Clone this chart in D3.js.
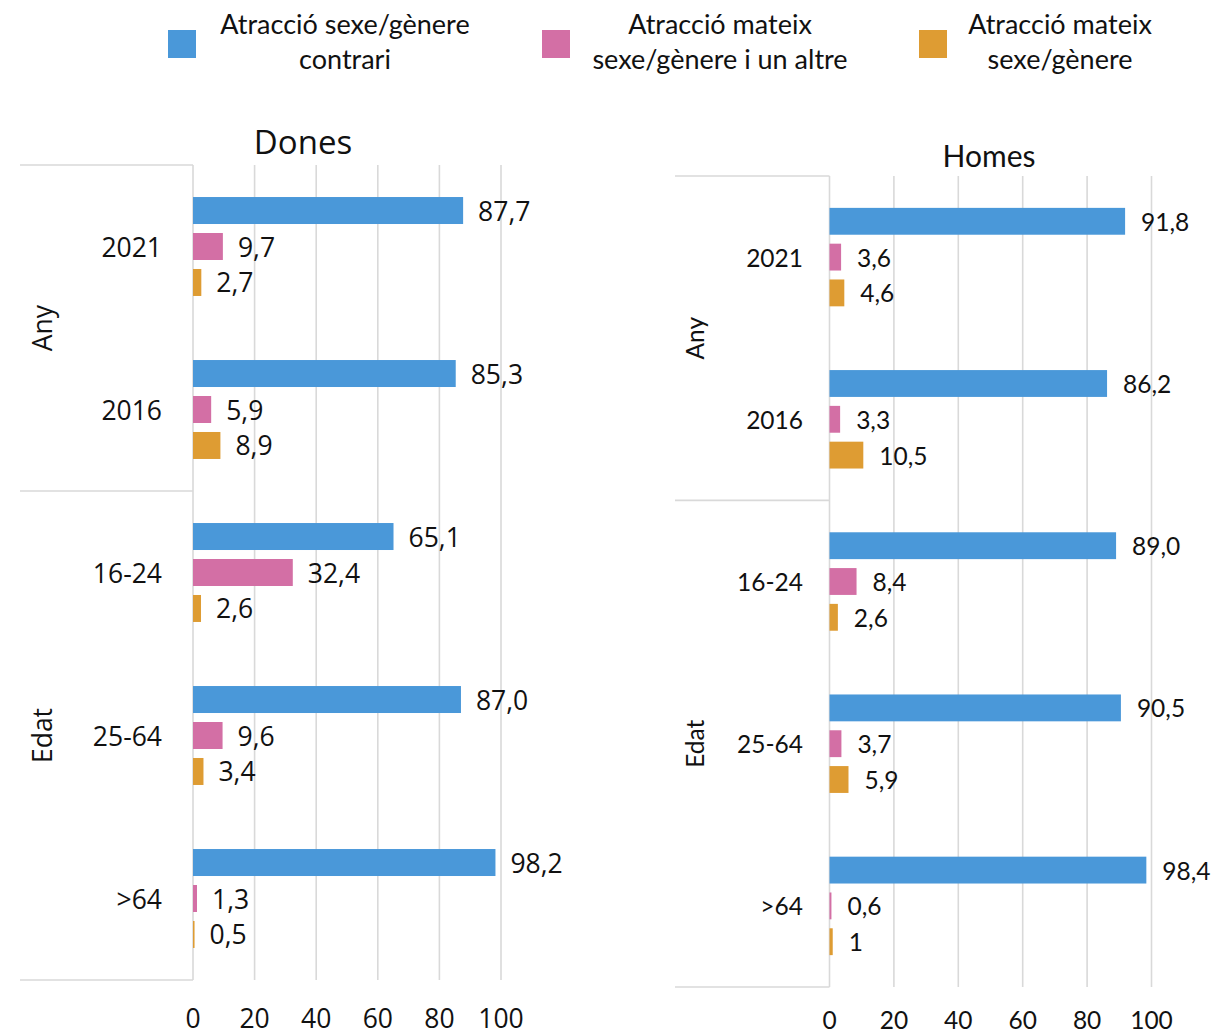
<!DOCTYPE html>
<html>
<head>
<meta charset="utf-8">
<script src="https://cdn.jsdelivr.net/npm/d3@7"></script>
<style>
  html, body { margin: 0; padding: 0; background: #fff; }
  svg { display: block; }
</style>
</head>
<body>
<svg id="chart" width="1217" height="1034"></svg>
<script>
// ---- data ----
const categories = ["2021", "2016", "16-24", "25-64", ">64"];
const groups = [
  { name: "Any", cats: ["2021", "2016"] },
  { name: "Edat", cats: ["16-24", "25-64", ">64"] }
];
const seriesNames = [
  "Atracció sexe/gènere contrari",
  "Atracció mateix sexe/gènere i un altre",
  "Atracció mateix sexe/gènere"
];
const seriesColors = ["#4a98d9", "#d36fa5", "#de9c33"];

const donesContrari = [87.7, 85.3, 65.1, 87.0, 98.2];
const donesAltre    = [9.7, 5.9, 32.4, 9.6, 1.3];
const donesMateix   = [2.7, 8.9, 2.6, 3.4, 0.5];

const homesContrari = [91.8, 86.2, 89.0, 90.5, 98.4];
const homesAltre    = [3.6, 3.3, 8.4, 3.7, 0.6];
const homesMateix   = [4.6, 10.5, 2.6, 5.9, 1];

const xTicks = [0, 20, 40, 60, 80, 100];

// label format: one decimal with comma; whole-number "1" shown as in source
const fmt = v => (v === 1 ? "1" : v.toFixed(1).replace(".", ","));

const svg = d3.select("#chart");

// ---- legend ----
const legendItems = [
  { color: seriesColors[0], sq: 168, cx: 345, lines: ["Atracció sexe/gènere", "contrari"] },
  { color: seriesColors[1], sq: 542, cx: 720, lines: ["Atracció mateix", "sexe/gènere i un altre"] },
  { color: seriesColors[2], sq: 919, cx: 1060, lines: ["Atracció mateix", "sexe/gènere"] }
];
const lg = svg.append("g");
legendItems.forEach(it => {
  lg.append("rect").attr("x", it.sq).attr("y", 30).attr("width", 28).attr("height", 28).attr("fill", it.color);
  it.lines.forEach((t, i) => {
    lg.append("text").attr("x", it.cx).attr("y", 23 + i * 35)
      .attr("text-anchor", "middle").attr("dominant-baseline", "central")
      .attr("font-family", "Lato, 'Open Sans', sans-serif")
      .attr("font-size", 27).attr("fill", "#111").text(t);
  });
});

function drawPanel(cfg) {
  const g = svg.append("g");
  const series = [cfg.s0, cfg.s1, cfg.s2];
  const x = d3.scaleLinear().domain([0, 100]).range([cfg.x0, cfg.x1]);
  const y = d3.scaleBand().domain(categories).range([cfg.top, cfg.bottom])
    .paddingInner(0.393).paddingOuter(0.1965);
  const ys = d3.scaleBand().domain([0, 1, 2]).range([0, y.bandwidth()]).paddingInner(0.25);
  const step = y.step();

  // gridlines
  g.selectAll(".grid").data(xTicks.slice(1)).join("line")
    .attr("x1", d => x(d)).attr("x2", d => x(d))
    .attr("y1", cfg.top).attr("y2", cfg.bottom)
    .attr("stroke", "#d9d9d9").attr("stroke-width", 1.6);

  // category axis line
  g.append("line").attr("x1", x(0)).attr("x2", x(0)).attr("y1", cfg.top).attr("y2", cfg.bottom)
    .attr("stroke", "#d9d9d9").attr("stroke-width", 1.6);

  // group separators
  let idx = 0;
  const seps = [cfg.top];
  groups.forEach(gr => {
    const start = idx;
    idx += gr.cats.length;
    seps.push(cfg.top + idx * step);
    const mid = cfg.top + (start + idx) / 2 * step;
    g.append("text")
      .attr("transform", `translate(${cfg.groupX},${mid}) rotate(-90)`)
      .attr("text-anchor", "middle").attr("dominant-baseline", "central")
      .attr("font-family", cfg.font).attr("font-size", cfg.fs).attr("fill", "#111")
      .text(gr.name);
  });
  g.selectAll(".sep").data(seps).join("line")
    .attr("x1", cfg.sepX).attr("x2", x(0))
    .attr("y1", d => d).attr("y2", d => d)
    .attr("stroke", "#d9d9d9").attr("stroke-width", 1.6);

  // category labels
  g.selectAll(".cat").data(categories).join("text")
    .attr("x", cfg.catX).attr("y", d => y(d) + y.bandwidth() / 2)
    .attr("text-anchor", "end").attr("dominant-baseline", "central")
    .attr("font-family", cfg.font).attr("font-size", cfg.fs).attr("fill", "#111")
    .text(d => d);

  // bars
  series.forEach((vals, si) => {
    const data = categories.map((c, i) => ({ c, v: vals[i] }));
    g.selectAll(".bar" + si).data(data).join("rect")
      .attr("x", x(0)).attr("y", d => y(d.c) + ys(si))
      .attr("width", d => x(d.v) - x(0)).attr("height", ys.bandwidth())
      .attr("fill", seriesColors[si]);
    g.selectAll(".lab" + si).data(data).join("text")
      .attr("x", d => x(d.v) + cfg.labOff).attr("y", d => y(d.c) + ys(si) + ys.bandwidth() / 2)
      .attr("dominant-baseline", "central")
      .attr("font-family", cfg.font).attr("font-size", cfg.fs).attr("fill", "#111")
      .text(d => fmt(d.v));
  });

  // x tick labels
  g.selectAll(".tick").data(xTicks).join("text")
    .attr("x", d => x(d)).attr("y", cfg.tickY)
    .attr("text-anchor", "middle").attr("dominant-baseline", "central")
    .attr("font-family", cfg.font).attr("font-size", cfg.fs).attr("fill", "#111")
    .text(d => d);

  // title
  g.append("text").attr("x", cfg.titleX).attr("y", cfg.titleY)
    .attr("text-anchor", "middle").attr("dominant-baseline", "central")
    .attr("font-family", cfg.font).attr("font-size", cfg.titleFs).attr("fill", "#111")
    .text(cfg.title);
}

drawPanel({
  title: "Dones", titleX: 303, titleY: 141, titleFs: 33,
  s0: donesContrari, s1: donesAltre, s2: donesMateix,
  x0: 193, x1: 501, top: 165, bottom: 980,
  sepX: 20, groupX: 42, catX: 162, labOff: 15, tickY: 1018,
  font: "'Open Sans', sans-serif", fs: 26.5
});

drawPanel({
  title: "Homes", titleX: 989, titleY: 155, titleFs: 30,
  s0: homesContrari, s1: homesAltre, s2: homesMateix,
  x0: 829.5, x1: 1151.5, top: 176, bottom: 987,
  sepX: 675, groupX: 694, catX: 803, labOff: 16, tickY: 1019,
  font: "Lato, 'Open Sans', sans-serif", fs: 24.5
});
</script>
</body>
</html>
